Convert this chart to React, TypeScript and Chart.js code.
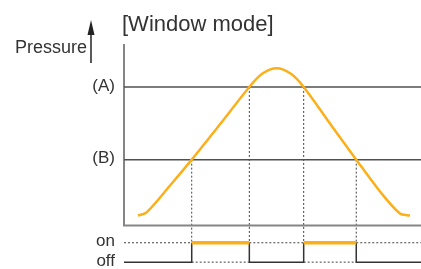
import { useEffect, useRef } from "react";
import { Chart, registerables } from "chart.js";

Chart.register(...registerables);

// ---- data ----
const curveTime = [4.7, 7.6, 15.5, 22.8, 32.3, 42.2, 46.5, 51.4, 56.2, 60.5, 69.4, 78.2, 86.2, 92.9, 96.3];
const curvePressure = [7.2, 9.4, 28.8, 47.5, 73.0, 100, 109.5, 113.5, 109.5, 100, 73.4, 47.5, 24.5, 8.6, 7.2];
const thresholdA = 100;
const thresholdB = 47.5;
const switchTimes = [22.8, 42.2, 60.5, 78.2];
const switchPressure = [thresholdB, thresholdA, thresholdA, thresholdB];
const signalOn = -12.5;
const signalOff = -26.5;
const timeMax = 100;
const pressureAxisTop = 131;
const pressureMin = -30;
const levelValues = [thresholdA, thresholdB, signalOn, signalOff];
const levelLabels = ["(A)", "(B)", "on", "off"];
const titleText = "[Window mode]";
const axisLabel = "Pressure";

const ORANGE = "#FBB01A";
const FONT = '"Liberation Sans", Arial, Helvetica, sans-serif';

type P = { x: number; y: number | null };

function buildSeries() {
  const bounds = [0, ...switchTimes, timeMax];
  const onRef: P[] = [];
  const offRef: P[] = [];
  const signal: P[] = [];
  const onSeg: P[] = [];
  const last = bounds.length - 2;
  for (let i = 0; i <= last; i++) {
    const s = bounds[i];
    const e = bounds[i + 1];
    const isOn = i % 2 === 1;
    if (isOn) {
      offRef.push({ x: s, y: signalOff }, { x: e, y: signalOff }, { x: e, y: null });
      onSeg.push({ x: s, y: signalOn }, { x: e, y: signalOn }, { x: e, y: null });
    } else {
      onRef.push({ x: s, y: signalOn }, { x: e, y: signalOn }, { x: e, y: null });
      if (i > 0) signal.push({ x: s, y: signalOn });
      signal.push({ x: s, y: signalOff }, { x: e, y: signalOff });
      if (i < last) signal.push({ x: e, y: signalOn });
      signal.push({ x: e, y: null });
    }
  }
  const verticals: P[] = [];
  switchTimes.forEach((t, j) => {
    verticals.push({ x: t, y: switchPressure[j] }, { x: t, y: signalOn }, { x: t, y: null });
  });
  return { onRef, offRef, signal, onSeg, verticals };
}

const textPlugin = {
  id: "diagramTexts",
  afterDraw(chart: any) {
    const ctx = chart.ctx as CanvasRenderingContext2D;
    const xs = chart.scales.x;
    const ys = chart.scales.y;
    const left = xs.left;
    const top = ys.top;
    ctx.save();
    ctx.fillStyle = "#333333";
    // title
    ctx.font = `22px ${FONT}`;
    ctx.textAlign = "left";
    ctx.textBaseline = "alphabetic";
    ctx.fillText(titleText, left - 2, top - 13);
    // axis label
    ctx.font = `18px ${FONT}`;
    ctx.textAlign = "right";
    ctx.fillText(axisLabel, left - 37, top + 9);
    // arrow
    const ax = left - 33;
    ctx.strokeStyle = "#222222";
    ctx.lineWidth = 1.5;
    ctx.beginPath();
    ctx.moveTo(ax, top + 19);
    ctx.lineTo(ax, top - 12);
    ctx.stroke();
    ctx.fillStyle = "#222222";
    ctx.beginPath();
    ctx.moveTo(ax, top - 24);
    ctx.lineTo(ax - 3.5, top - 9);
    ctx.lineTo(ax + 3.5, top - 9);
    ctx.closePath();
    ctx.fill();
    // level labels
    ctx.fillStyle = "#333333";
    ctx.font = `17px ${FONT}`;
    ctx.textAlign = "right";
    ctx.textBaseline = "middle";
    levelValues.forEach((v, i) => {
      ctx.fillText(levelLabels[i], left - 9, ys.getPixelForValue(v) - 1);
    });
    ctx.restore();
  },
};

export default function App() {
  const ref = useRef<HTMLCanvasElement | null>(null);
  useEffect(() => {
    document.body.style.margin = "0";
    const { onRef, offRef, signal, onSeg, verticals } = buildSeries();
    const line = (data: P[], color: string, width: number, order: number, dash: number[] = []) => ({
      data,
      borderColor: color,
      borderWidth: width,
      borderDash: dash,
      pointRadius: 0,
      fill: false,
      tension: 0,
      spanGaps: false,
      clip: false as any,
      order,
    });
    const chart = new Chart(ref.current!, {
      type: "line",
      data: {
        datasets: [
          {
            ...line(curveTime.map((t, i) => ({ x: t, y: curvePressure[i] })), ORANGE, 2.5, 0),
            tension: 0.3,
          } as any,
          line(onSeg, ORANGE, 3.5, 1),
          line(
            [
              { x: 0, y: pressureAxisTop },
              { x: 0, y: 0 },
              { x: timeMax, y: 0 },
            ],
            "#858585",
            2,
            4
          ),
          line([{ x: 0, y: thresholdA }, { x: timeMax, y: thresholdA }], "#505050", 1.5, 3),
          line([{ x: 0, y: thresholdB }, { x: timeMax, y: thresholdB }], "#505050", 1.5, 3),
          line(verticals, "#444444", 1, 5, [2, 2]),
          line(onRef, "#444444", 1, 5, [2, 2]),
          line(offRef, "#444444", 1, 5, [2, 2]),
          line(signal, "#333333", 1.5, 2),
        ],
      },
      options: {
        animation: false,
        responsive: false,
        devicePixelRatio: 1,
        layout: { padding: { left: 124, right: 0, top: 44, bottom: 2 } },
        plugins: { legend: { display: false }, tooltip: { enabled: false }, title: { display: false } },
        scales: {
          x: { type: "linear", min: 0, max: timeMax, display: false },
          y: { type: "linear", min: pressureMin, max: pressureAxisTop, display: false },
        },
      },
      plugins: [textPlugin],
    });
    return () => chart.destroy();
  }, []);
  return (
    <div style={{ position: "absolute", left: 0, top: 0, width: 421, height: 269, background: "#fff" }}>
      <canvas ref={ref} width={421} height={269} />
    </div>
  );
}
